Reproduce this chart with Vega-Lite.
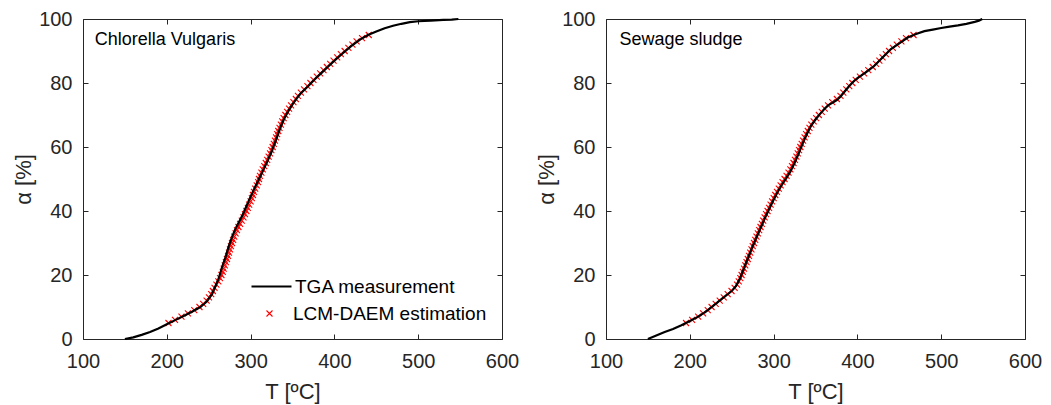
{
  "$schema": "https://vega.github.io/schema/vega-lite/v6.json",
  "background": "white",
  "padding": {"left": 12, "top": 9, "right": 5, "bottom": 5},
  "config": {
    "font": "Liberation Sans",
    "view": {"stroke": null},
    "axis": {"grid": false, "domainColor": "#262626", "tickColor": "#262626", "labelColor": "#262626", "titleColor": "#262626", "labelFont": "Liberation Sans", "titleFont": "Liberation Sans", "labelFontSize": 20, "titleFontSize": 22, "titleFontWeight": "normal", "tickSize": -5, "domainWidth": 1, "tickWidth": 1, "labelPadding": 14, "titlePadding": 6, "labelFlush": false},
    "axisX": {"labelPadding": 17, "titlePadding": 10},
    "axisY": {"labelPadding": 16, "titlePadding": 3},
    "concat": {"spacing": 16}
  },
  "datasets": {
    "cv_tga": [{"T":150,"alpha":0},{"T":160,"alpha":0.5},{"T":170,"alpha":1.3},{"T":180,"alpha":2.2},{"T":190,"alpha":3.3},{"T":200,"alpha":4.6},{"T":210,"alpha":5.9},{"T":220,"alpha":7.2},{"T":230,"alpha":8.5},{"T":240,"alpha":10},{"T":248,"alpha":11.8},{"T":254,"alpha":14},{"T":258,"alpha":16.5},{"T":262,"alpha":19},{"T":266,"alpha":22.5},{"T":270,"alpha":25.5},{"T":274,"alpha":29},{"T":278,"alpha":32},{"T":282,"alpha":34.5},{"T":286,"alpha":36.5},{"T":290,"alpha":38.5},{"T":295,"alpha":41.5},{"T":300,"alpha":44.5},{"T":305,"alpha":47.3},{"T":310,"alpha":50},{"T":315,"alpha":52.7},{"T":320,"alpha":55.5},{"T":325,"alpha":58.5},{"T":330,"alpha":62},{"T":335,"alpha":65.7},{"T":340,"alpha":68.8},{"T":345,"alpha":71.2},{"T":350,"alpha":73.3},{"T":355,"alpha":75.2},{"T":360,"alpha":76.8},{"T":368,"alpha":78.8},{"T":376,"alpha":81},{"T":384,"alpha":83},{"T":392,"alpha":85},{"T":400,"alpha":87},{"T":410,"alpha":89.3},{"T":420,"alpha":91.5},{"T":430,"alpha":93.5},{"T":440,"alpha":95},{"T":450,"alpha":96.1},{"T":460,"alpha":97.1},{"T":470,"alpha":97.9},{"T":480,"alpha":98.5},{"T":490,"alpha":99},{"T":500,"alpha":99.3},{"T":515,"alpha":99.5},{"T":530,"alpha":99.7},{"T":540,"alpha":99.8},{"T":548,"alpha":100}],
    "cv_est": [{"T":202,"alpha":5},{"T":209.8,"alpha":6},{"T":217.5,"alpha":7},{"T":225.2,"alpha":8},{"T":232.8,"alpha":9},{"T":239,"alpha":10},{"T":243.4,"alpha":11},{"T":247.5,"alpha":12},{"T":250.3,"alpha":13},{"T":253,"alpha":14},{"T":255,"alpha":15},{"T":257,"alpha":16},{"T":259.2,"alpha":17},{"T":261.5,"alpha":18},{"T":263.5,"alpha":19},{"T":265.2,"alpha":20},{"T":266.8,"alpha":21},{"T":267.9,"alpha":22},{"T":269.2,"alpha":23},{"T":270.5,"alpha":24},{"T":271.8,"alpha":25},{"T":273.1,"alpha":26},{"T":274.2,"alpha":27},{"T":275.4,"alpha":28},{"T":276.5,"alpha":29},{"T":277.8,"alpha":30},{"T":279.2,"alpha":31},{"T":280.5,"alpha":32},{"T":282.1,"alpha":33},{"T":283.7,"alpha":34},{"T":285.5,"alpha":35},{"T":287.5,"alpha":36},{"T":289.5,"alpha":37},{"T":291.5,"alpha":38},{"T":293.3,"alpha":39},{"T":295,"alpha":40},{"T":296.7,"alpha":41},{"T":298.3,"alpha":42},{"T":300,"alpha":43},{"T":301.5,"alpha":44},{"T":302.8,"alpha":45},{"T":304,"alpha":46},{"T":305.5,"alpha":47},{"T":307.3,"alpha":48},{"T":309,"alpha":49},{"T":310,"alpha":50},{"T":311.2,"alpha":51},{"T":312.9,"alpha":52},{"T":314.5,"alpha":53},{"T":316.3,"alpha":54},{"T":318.1,"alpha":55},{"T":319.8,"alpha":56},{"T":321.5,"alpha":57},{"T":323.2,"alpha":58},{"T":324.8,"alpha":59},{"T":326.3,"alpha":60},{"T":327.7,"alpha":61},{"T":329,"alpha":62},{"T":330.4,"alpha":63},{"T":331.7,"alpha":64},{"T":333,"alpha":65},{"T":334.5,"alpha":66},{"T":336.1,"alpha":67},{"T":337.7,"alpha":68},{"T":339.4,"alpha":69},{"T":341.5,"alpha":70},{"T":343.6,"alpha":71},{"T":345.9,"alpha":72},{"T":348.3,"alpha":73},{"T":351.1,"alpha":74},{"T":354,"alpha":75},{"T":356.5,"alpha":76},{"T":360,"alpha":77},{"T":363.8,"alpha":78},{"T":367.8,"alpha":79},{"T":371.4,"alpha":80},{"T":375,"alpha":81},{"T":379,"alpha":82},{"T":383,"alpha":83},{"T":387,"alpha":84},{"T":391,"alpha":85},{"T":395,"alpha":86},{"T":399,"alpha":87},{"T":403.3,"alpha":88},{"T":407.7,"alpha":89},{"T":412.2,"alpha":90},{"T":416.7,"alpha":91},{"T":421.5,"alpha":92},{"T":426.5,"alpha":93},{"T":433,"alpha":94},{"T":441,"alpha":95}],
    "ss_tga": [{"T":150,"alpha":0},{"T":160,"alpha":1.1},{"T":170,"alpha":2.2},{"T":180,"alpha":3.1},{"T":190,"alpha":4.3},{"T":200,"alpha":5.6},{"T":210,"alpha":7},{"T":220,"alpha":8.7},{"T":230,"alpha":10.8},{"T":240,"alpha":12.9},{"T":250,"alpha":15},{"T":255,"alpha":16.5},{"T":260,"alpha":19},{"T":265,"alpha":22.4},{"T":270,"alpha":25.7},{"T":275,"alpha":29},{"T":280,"alpha":32},{"T":285,"alpha":35},{"T":290,"alpha":38},{"T":295,"alpha":40.8},{"T":300,"alpha":43.5},{"T":305,"alpha":46},{"T":310,"alpha":48.2},{"T":315,"alpha":50.2},{"T":320,"alpha":52.3},{"T":325,"alpha":55},{"T":330,"alpha":58},{"T":335,"alpha":61.3},{"T":340,"alpha":64.2},{"T":345,"alpha":66.8},{"T":350,"alpha":68.6},{"T":355,"alpha":70.2},{"T":360,"alpha":71.7},{"T":365,"alpha":73},{"T":370,"alpha":73.8},{"T":375,"alpha":74.6},{"T":380,"alpha":75.8},{"T":385,"alpha":77.4},{"T":390,"alpha":79},{"T":395,"alpha":80.4},{"T":400,"alpha":81.5},{"T":410,"alpha":83.3},{"T":420,"alpha":85.3},{"T":430,"alpha":88},{"T":440,"alpha":90.6},{"T":450,"alpha":92.4},{"T":460,"alpha":94.2},{"T":470,"alpha":95.3},{"T":480,"alpha":96.2},{"T":490,"alpha":96.7},{"T":500,"alpha":97.2},{"T":510,"alpha":97.6},{"T":520,"alpha":98},{"T":530,"alpha":98.5},{"T":540,"alpha":99.1},{"T":545,"alpha":99.5},{"T":549,"alpha":100}],
    "ss_est": [{"T":195.5,"alpha":5},{"T":202.8,"alpha":6},{"T":210,"alpha":7},{"T":215.9,"alpha":8},{"T":221.4,"alpha":9},{"T":226,"alpha":10},{"T":230.9,"alpha":11},{"T":235.7,"alpha":12},{"T":240.5,"alpha":13},{"T":245.2,"alpha":14},{"T":249.8,"alpha":15},{"T":253.5,"alpha":16},{"T":256.4,"alpha":17},{"T":258.4,"alpha":18},{"T":260.3,"alpha":19},{"T":261.8,"alpha":20},{"T":263.3,"alpha":21},{"T":264.7,"alpha":22},{"T":266.2,"alpha":23},{"T":267.7,"alpha":24},{"T":269.2,"alpha":25},{"T":270.7,"alpha":26},{"T":272.1,"alpha":27},{"T":273.6,"alpha":28},{"T":275.1,"alpha":29},{"T":276.6,"alpha":30},{"T":278.1,"alpha":31},{"T":279.6,"alpha":32},{"T":281.2,"alpha":33},{"T":282.8,"alpha":34},{"T":284.4,"alpha":35},{"T":286,"alpha":36},{"T":287.6,"alpha":37},{"T":289.3,"alpha":38},{"T":291,"alpha":39},{"T":292.8,"alpha":40},{"T":294.6,"alpha":41},{"T":296.4,"alpha":42},{"T":298.2,"alpha":43},{"T":300.1,"alpha":44},{"T":302,"alpha":45},{"T":304,"alpha":46},{"T":306.2,"alpha":47},{"T":308.4,"alpha":48},{"T":310.7,"alpha":49},{"T":313.1,"alpha":50},{"T":315.5,"alpha":51},{"T":317.8,"alpha":52},{"T":320,"alpha":53},{"T":321.9,"alpha":54},{"T":323.8,"alpha":55},{"T":325.5,"alpha":56},{"T":327.2,"alpha":57},{"T":328.8,"alpha":58},{"T":330.4,"alpha":59},{"T":331.9,"alpha":60},{"T":333.5,"alpha":61},{"T":335.2,"alpha":62},{"T":337,"alpha":63},{"T":338.8,"alpha":64},{"T":340.8,"alpha":65},{"T":342.8,"alpha":66},{"T":345,"alpha":67},{"T":347.8,"alpha":68},{"T":350.8,"alpha":69},{"T":354,"alpha":70},{"T":357.5,"alpha":71},{"T":361,"alpha":72},{"T":365,"alpha":73},{"T":370,"alpha":74},{"T":375.5,"alpha":75},{"T":379.8,"alpha":76},{"T":383.2,"alpha":77},{"T":386.8,"alpha":78},{"T":390.3,"alpha":79},{"T":394,"alpha":80},{"T":398,"alpha":81},{"T":403,"alpha":82},{"T":408,"alpha":83},{"T":413,"alpha":84},{"T":418.3,"alpha":85},{"T":422.3,"alpha":86},{"T":426.2,"alpha":87},{"T":430,"alpha":88},{"T":434,"alpha":89},{"T":437.8,"alpha":90},{"T":442.3,"alpha":91},{"T":447,"alpha":92},{"T":452.5,"alpha":93},{"T":458,"alpha":94},{"T":467,"alpha":95}]
  },
  "resolve": {"scale": {"color": "independent", "shape": "independent"}, "legend": {"color": "independent", "shape": "independent"}},
  "hconcat": [
    {
      "width": 419, "height": 320,
      "layer": [
        {
          "data": {"name": "cv_est"},
          "mark": {"type": "point", "size": 36, "filled": false, "strokeWidth": 1.1, "color": "#ff0000", "opacity": 1},
          "encoding": {
            "x": {"field": "T", "type": "quantitative", "scale": {"domain": [100, 600], "nice": false}, "axis": {"orient": "top", "values": [100,200,300,400,500,600], "labels": false, "title": null}},
            "y": {"field": "alpha", "type": "quantitative", "scale": {"domain": [0, 100], "nice": false}, "axis": {"orient": "right", "values": [0,20,40,60,80,100], "labels": false, "title": null}},
            "shape": {"datum": "LCM-DAEM estimation", "type": "nominal", "scale": {"domain": ["LCM-DAEM estimation"], "range": ["M-1,-1L1,1M1,-1L-1,1"]},
              "legend": {"title": null, "orient": "none", "legendX": 177, "legendY": 285, "labelFontSize": 19, "labelColor": "#000000", "labelFont": "Liberation Sans", "labelLimit": 400, "symbolSize": 36, "symbolStrokeColor": "#ff0000", "symbolStrokeWidth": 1.1, "symbolFillColor": "transparent", "symbolOpacity": 1, "labelOffset": 14}}
          }
        },
        {
          "data": {"name": "cv_tga"},
          "mark": {"type": "line", "strokeWidth": 2.2},
          "encoding": {
            "x": {"field": "T", "type": "quantitative", "axis": {"orient": "bottom", "values": [100,200,300,400,500,600], "title": "T [ºC]"}},
            "y": {"field": "alpha", "type": "quantitative", "axis": {"orient": "left", "values": [0,20,40,60,80,100], "title": "α [%]"}},
            "color": {"datum": "TGA measurement", "type": "nominal", "scale": {"domain": ["TGA measurement"], "range": ["#000000"]},
              "legend": {"title": null, "orient": "none", "legendX": 167, "legendY": 246, "labelFontSize": 19, "labelColor": "#000000", "labelFont": "Liberation Sans", "labelLimit": 400, "symbolType": "stroke", "symbolSize": 1600, "symbolStrokeWidth": 2.2, "symbolStrokeColor": "#000000", "labelOffset": 2}}
          }
        },
        {
          "data": {"values": [{"T": 114, "alpha": 93.5, "label": "Chlorella Vulgaris"}]},
          "mark": {"type": "text", "align": "left", "baseline": "middle", "fontSize": 18, "font": "Liberation Sans", "color": "#000000"},
          "encoding": {
            "x": {"field": "T", "type": "quantitative", "axis": null},
            "y": {"field": "alpha", "type": "quantitative", "axis": null},
            "text": {"field": "label"}
          }
        }
      ],
      "resolve": {"axis": {"x": "independent", "y": "independent"}}
    },
    {
      "width": 419, "height": 320,
      "layer": [
        {
          "data": {"name": "ss_est"},
          "mark": {"type": "point", "shape": "M-1,-1L1,1M1,-1L-1,1", "size": 36, "filled": false, "strokeWidth": 1.1, "color": "#ff0000", "opacity": 1},
          "encoding": {
            "x": {"field": "T", "type": "quantitative", "scale": {"domain": [100, 600], "nice": false}, "axis": {"orient": "top", "values": [100,200,300,400,500,600], "labels": false, "title": null}},
            "y": {"field": "alpha", "type": "quantitative", "scale": {"domain": [0, 100], "nice": false}, "axis": {"orient": "right", "values": [0,20,40,60,80,100], "labels": false, "title": null}}
          }
        },
        {
          "data": {"name": "ss_tga"},
          "mark": {"type": "line", "strokeWidth": 2.2, "color": "#000000"},
          "encoding": {
            "x": {"field": "T", "type": "quantitative", "axis": {"orient": "bottom", "values": [100,200,300,400,500,600], "title": "T [ºC]"}},
            "y": {"field": "alpha", "type": "quantitative", "axis": {"orient": "left", "values": [0,20,40,60,80,100], "title": "α [%]"}}
          }
        },
        {
          "data": {"values": [{"T": 116, "alpha": 93.5, "label": "Sewage sludge"}]},
          "mark": {"type": "text", "align": "left", "baseline": "middle", "fontSize": 18, "font": "Liberation Sans", "color": "#000000"},
          "encoding": {
            "x": {"field": "T", "type": "quantitative", "axis": null},
            "y": {"field": "alpha", "type": "quantitative", "axis": null},
            "text": {"field": "label"}
          }
        }
      ],
      "resolve": {"axis": {"x": "independent", "y": "independent"}}
    }
  ]
}
